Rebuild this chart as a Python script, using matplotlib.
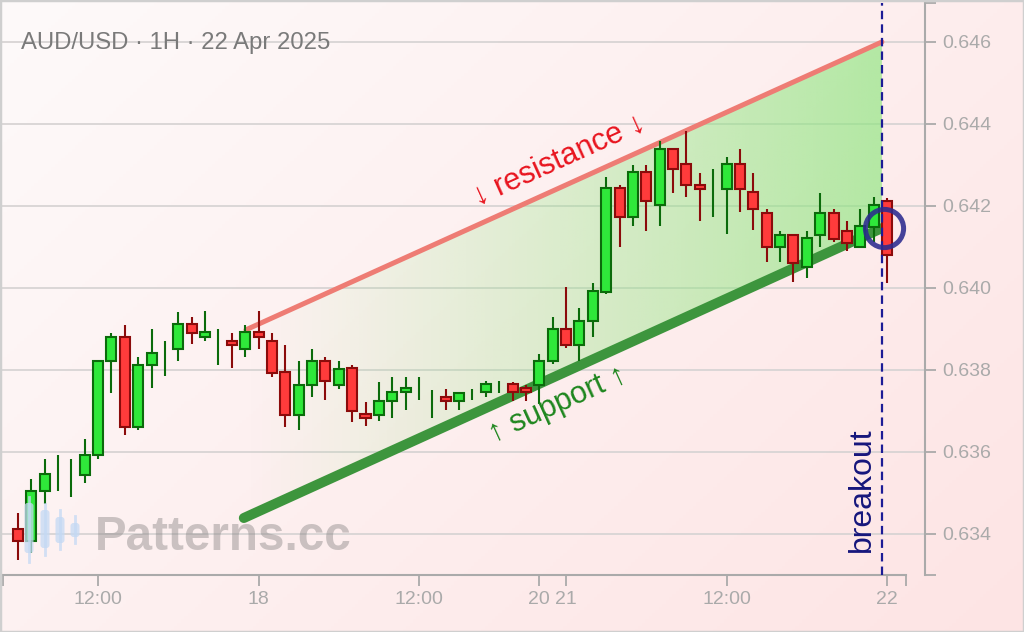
import numpy as np
import matplotlib
matplotlib.use("Agg")
import matplotlib.pyplot as plt
import matplotlib.transforms as mtransforms
from matplotlib.patches import Polygon, Rectangle, FancyBboxPatch

plt.rcParams['font.family'] = ['Liberation Sans', 'DejaVu Sans']

# ---------------- data ----------------
title = "AUD/USD · 1H · 22 Apr 2025"

opens = [0.63413, 0.63384, 0.63505, 0.63550, 0.63545, 0.63544, 0.63592, 0.63821, 0.63881, 0.63660,
         0.63812, 0.63845, 0.63851, 0.63912, 0.63880, 0.63860, 0.63871, 0.63851, 0.63892, 0.63871,
         0.63795, 0.63690, 0.63763, 0.63822, 0.63763, 0.63804, 0.63693, 0.63690, 0.63725, 0.63746,
         0.63755, 0.63720, 0.63735, 0.63725, 0.63740, 0.63746, 0.63760, 0.63766, 0.63757, 0.63763,
         0.63822, 0.63900, 0.63861, 0.63920, 0.63991, 0.64243, 0.64172, 0.64282, 0.64202, 0.64340,
         0.64302, 0.64252, 0.64240, 0.64241, 0.64302, 0.64233, 0.64184, 0.64101, 0.64129, 0.64052,
         0.64129, 0.64184, 0.64140, 0.64099, 0.64148, 0.64213]
highs = [0.63451, 0.63533, 0.63582, 0.63592, 0.63582, 0.63631, 0.63824, 0.63890, 0.63909, 0.63831,
         0.63899, 0.63871, 0.63942, 0.63929, 0.63943, 0.63899, 0.63890, 0.63909, 0.63943, 0.63890,
         0.63861, 0.63821, 0.63851, 0.63831, 0.63821, 0.63811, 0.63723, 0.63771, 0.63782, 0.63782,
         0.63782, 0.63751, 0.63753, 0.63746, 0.63753, 0.63773, 0.63773, 0.63771, 0.63763, 0.63840,
         0.63929, 0.64002, 0.63952, 0.64011, 0.64270, 0.64250, 0.64299, 0.64299, 0.64358, 0.64341,
         0.64382, 0.64280, 0.64290, 0.64319, 0.64338, 0.64280, 0.64192, 0.64139, 0.64130, 0.64139,
         0.64231, 0.64192, 0.64164, 0.64192, 0.64221, 0.64220]
lows = [0.63337, 0.63353, 0.63472, 0.63506, 0.63491, 0.63525, 0.63584, 0.63745, 0.63642, 0.63654,
        0.63755, 0.63785, 0.63822, 0.63863, 0.63871, 0.63813, 0.63804, 0.63832, 0.63852, 0.63784,
        0.63662, 0.63654, 0.63735, 0.63726, 0.63754, 0.63672, 0.63663, 0.63675, 0.63683, 0.63702,
        0.63727, 0.63682, 0.63702, 0.63702, 0.63727, 0.63735, 0.63743, 0.63725, 0.63725, 0.63718,
        0.63815, 0.63853, 0.63822, 0.63881, 0.63985, 0.64101, 0.64150, 0.64140, 0.64150, 0.64232,
        0.64223, 0.64164, 0.64174, 0.64131, 0.64185, 0.64141, 0.64063, 0.64063, 0.64015, 0.64024,
        0.64101, 0.64111, 0.64091, 0.64098, 0.64113, 0.64013]
closes = [0.63384, 0.63506, 0.63546, 0.63550, 0.63545, 0.63593, 0.63823, 0.63881, 0.63660, 0.63813,
          0.63842, 0.63845, 0.63911, 0.63890, 0.63892, 0.63860, 0.63861, 0.63892, 0.63880, 0.63793,
          0.63690, 0.63764, 0.63822, 0.63773, 0.63802, 0.63700, 0.63682, 0.63725, 0.63746, 0.63755,
          0.63755, 0.63720, 0.63725, 0.63745, 0.63740, 0.63766, 0.63760, 0.63746, 0.63746, 0.63822,
          0.63900, 0.63861, 0.63920, 0.63993, 0.64243, 0.64172, 0.64282, 0.64212, 0.64340, 0.64290,
          0.64250, 0.64241, 0.64240, 0.64302, 0.64241, 0.64192, 0.64099, 0.64129, 0.64062, 0.64121,
          0.64184, 0.64120, 0.64109, 0.64150, 0.64202, 0.64080]

time_tick_pos = [6, 18, 30, 39, 41, 53, 65]
time_tick_labels = ["12:00", "18", "12:00", "20", "21", "12:00", "22"]
price_ticks = [0.634, 0.636, 0.638, 0.640, 0.642, 0.644, 0.646]

res_x = [17.06, 64.62]
res_y = [0.63898, 0.64600]
sup_x = [16.90, 64.62]
sup_y = [0.63439, 0.64146]
breakout_x = 64.62
circle_x, circle_y = 64.77, 0.64146

xlim = (-1.11, 66.42)
ylim = (0.633, 0.64695)

# ---------------- figure ----------------
W, H = 1024, 632
fig = plt.figure(figsize=(W / 100, H / 100), dpi=100)

bg = fig.add_axes([0, 0, 1, 1], zorder=-5)
yy, xx = np.mgrid[0:1:200j, 0:1:300j]
t = np.clip(xx * 0.6 + yy * 0.4, 0, 1)
c0 = np.array([253, 250, 250]) / 255
c1 = np.array([253, 228, 228]) / 255
bg.imshow(c0 + (c1 - c0) * t[..., None], extent=[0, 1, 0, 1], aspect='auto', origin='upper')
bg.set_axis_off()

ax = fig.add_axes([3 / W, 1 - 575 / H, 903 / W, 572 / H])
ax.set_facecolor('none')

# gridlines (extend to offset right spine)
trans = mtransforms.blended_transform_factory(ax.transAxes, ax.transData)
for p in price_ticks:
    ax.plot([-3 / 903, 1 + 19 / 903], [p, p], transform=trans, color='#d8d4d4',
            lw=1.3, clip_on=False, zorder=0.5)

# channel gradient fill
poly_pts = [(res_x[0], res_y[0]), (res_x[1], res_y[1]), (sup_x[1], sup_y[1]), (sup_x[0], sup_y[0])]
poly = Polygon(poly_pts, closed=True, facecolor='none', edgecolor='none')
ax.add_patch(poly)
grad = np.zeros((2, 256, 4))
grad[..., :3] = np.array([140, 230, 125]) / 255
grad[..., 3] = np.linspace(0.0, 0.68, 256) ** 1.1
im = ax.imshow(grad, extent=[sup_x[0], res_x[1], sup_y[0], res_y[1]], aspect='auto',
               origin='lower', zorder=1, interpolation='bilinear')
im.set_clip_path(poly)

# trend lines
ax.plot(res_x, res_y, color='#ee7c74', lw=3.6, solid_capstyle='round', zorder=2)
ax.plot(sup_x, sup_y, color='#3d953d', lw=7.2, solid_capstyle='round', zorder=2)

# candles
x = np.arange(len(opens))
o = np.array(opens); h = np.array(highs); l = np.array(lows); c = np.array(closes)
up = c >= o
edge = np.where(up, '#0b6b0b', '#8b0b0b')
fill = np.where(up, '#2fe83a', '#ff3b3b')
ax.vlines(x, l, h, colors=edge, lw=1.5, zorder=3)
body = np.abs(c - o) > 1e-7
ax.bar(x[body], np.abs(c - o)[body], bottom=np.minimum(o, c)[body], width=0.75,
       color=fill[body], edgecolor=edge[body], linewidth=1.5, zorder=4)

# breakout marker
ax.axvline(breakout_x, color='#1c1c96', lw=1.6, ls=(0, (3.8, 2.3)), zorder=5)
ax.plot([circle_x], [circle_y], marker='o', ms=27.5, mfc='none', mec='#2b2b8f',
        mew=3.6, alpha=0.88, zorder=6)

ax.set_xlim(*xlim)
ax.set_ylim(*ylim)

# annotations
p0 = ax.transData.transform((res_x[0], res_y[0]))
p1 = ax.transData.transform((res_x[1], res_y[1]))
ang_r = np.degrees(np.arctan2(p1[1] - p0[1], p1[0] - p0[0]))
q0 = ax.transData.transform((sup_x[0], sup_y[0]))
q1 = ax.transData.transform((sup_x[1], sup_y[1]))
ang_s = np.degrees(np.arctan2(q1[1] - q0[1], q1[0] - q0[0]))

ax.text(40.5, 0.64312, "↓ resistance ↓", color='#e8141e', fontsize=22, rotation=ang_r,
        rotation_mode='anchor', ha='center', va='center', zorder=7)
ax.text(40.4, 0.63715, "↑ support ↑", color='#1e861e', fontsize=22, rotation=ang_s,
        rotation_mode='anchor', ha='center', va='center', zorder=7)
ax.text(63.13, 0.63507, "breakout", color='#16167c', fontsize=23, rotation=90,
        ha='center', va='center', zorder=7)

# axes styling
for s in ['left', 'top']:
    ax.spines[s].set_visible(False)
ax.yaxis.tick_right()
ax.spines['right'].set_position(('outward', 19 * 72 / 100))
for s in ['right', 'bottom']:
    ax.spines[s].set_color('#aaaaaa')
    ax.spines[s].set_linewidth(1.5)

ax.set_yticks(price_ticks + [ylim[0], ylim[1]],
              [f"{p:.3f}" for p in price_ticks] + ["", ""])
ax.set_xticks(time_tick_pos + [xlim[0], xlim[1]], time_tick_labels + ["", ""])
ax.tick_params(axis='both', colors='#aaaaaa', labelcolor='#aaaaaa', labelsize=14,
               length=7.7, width=1.3)
ax.tick_params(axis='y', pad=5)
ax.tick_params(axis='x', pad=3.5)

# title
fig.text(21 / W, 1 - 49 / H, title, ha='left', va='baseline', fontsize=17.2, color='#7a7a7a')

# watermark
pix = mtransforms.Affine2D().scale(1 / W, -1 / H).translate(0, 1) + fig.transFigure
icon = [(29, 503, 553, 497, 562), (45, 510, 548, 504, 555), (60, 517, 543, 510, 549), (75, 523, 537, 516, 543)]
for cx, bt, bb, wt, wb in icon:
    fig.add_artist(plt.Line2D([cx, cx], [wt, wb], transform=pix, color='#c4d9f4', lw=2, alpha=0.75, zorder=8))
    fig.add_artist(FancyBboxPatch((cx - 4.5, bt), 9, bb - bt, boxstyle='round,pad=0,rounding_size=3',
                                  transform=pix, facecolor='#c4d9f4', edgecolor='none', alpha=0.75, zorder=8))
fig.text(95 / W, 1 - 550 / H, "Patterns.cc", fontsize=34.3, fontweight='bold', color='#8c8888',
         alpha=0.45, ha='left', va='baseline', zorder=8)

# figure border
fig.add_artist(Rectangle((0, 0), 1, 1, transform=fig.transFigure, fill=False,
                         edgecolor='#cfcfcf', lw=2.5, zorder=10))

fig.savefig("out.png", dpi=100)
